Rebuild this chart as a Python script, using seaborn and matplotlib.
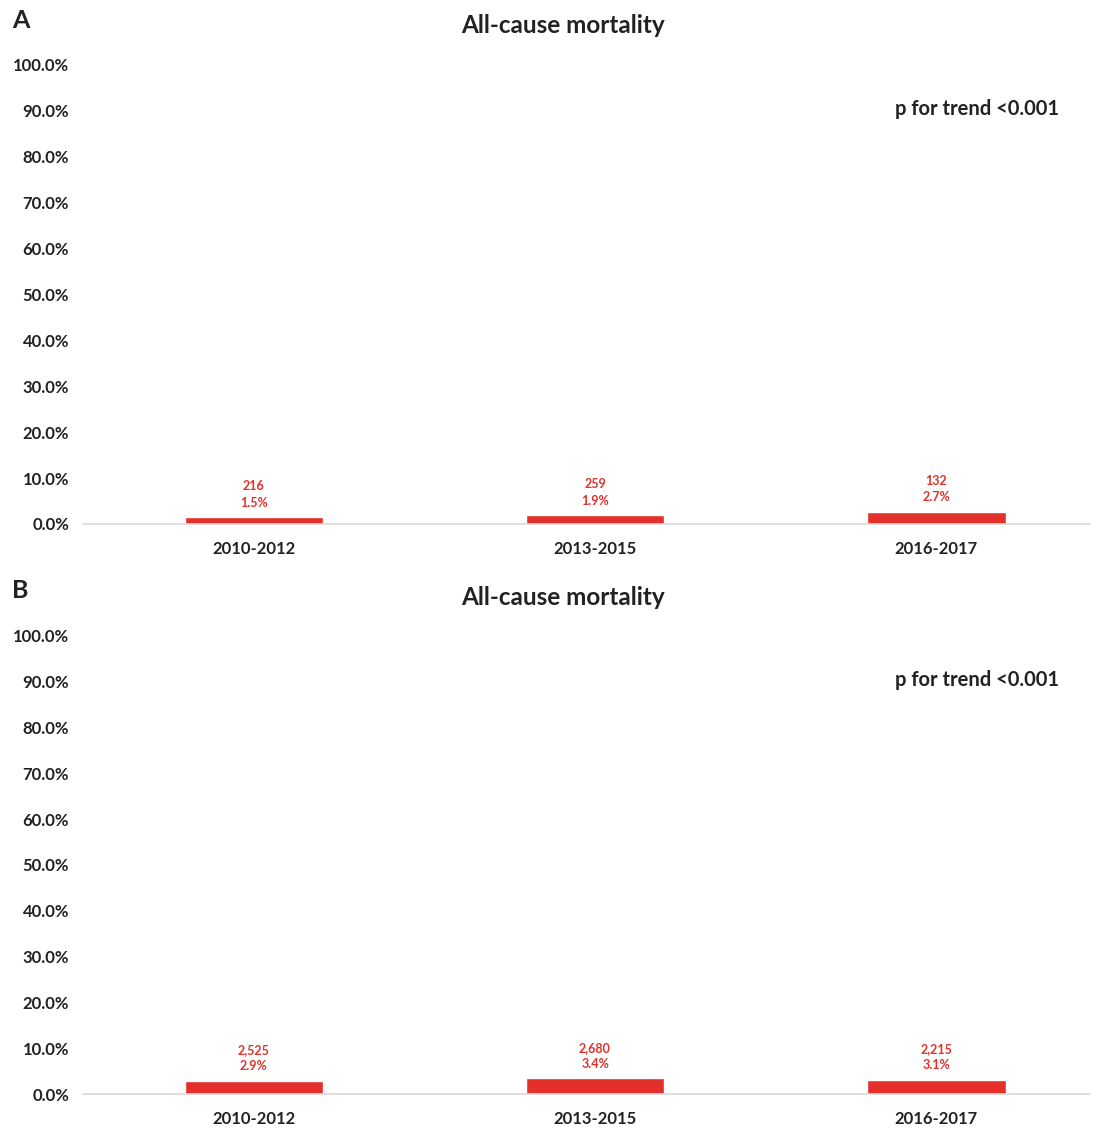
import pandas as pd
import matplotlib
matplotlib.use("Agg")
import matplotlib.pyplot as plt
import seaborn as sns

# data
periods = ["2010-2012", "2013-2015", "2016-2017"]
pct_a = [1.5, 1.9, 2.7]
n_a = [216, 259, 132]
pct_b = [2.9, 3.4, 3.1]
n_b = [2525, 2680, 2215]
yticks = [0, 10, 20, 30, 40, 50, 60, 70, 80, 90, 100]

sns.set_theme(style="white")
plt.rcParams["font.family"] = ["Lato", "DejaVu Sans"]

bar_color = "#E3302A"
fig = plt.figure(figsize=(10.99, 11.29), dpi=100)

panels = [
    ("A", pct_a, n_a, [0.0755, 0.5359, 0.9163, 0.4066], 0.982, 0.977),
    ("B", pct_b, n_b, [0.0755, 0.0310, 0.9163, 0.4057], 0.477, 0.471),
]

for letter, pct, counts, pos, letter_y, title_y in panels:
    ax = fig.add_axes(pos)
    df = pd.DataFrame({"period": periods, "pct": pct, "n": counts})
    sns.barplot(data=df, x="period", y="pct", color=bar_color, width=0.405,
                saturation=1, ax=ax)
    ax.set_xlim(-0.5, 2.45)
    ax.set_ylim(0, 100)
    ax.set_yticks(yticks)
    ax.set_yticklabels([f"{v:.1f}%" for v in yticks], fontsize=12,
                       fontweight="bold", color="#222222")
    ax.set_xticks(range(len(periods)))
    ax.set_xticklabels(periods, fontsize=12, fontweight="bold", color="#222222")
    ax.tick_params(axis="x", length=0, pad=12)
    ax.tick_params(axis="y", length=0, pad=10)
    ax.set_xlabel("")
    ax.set_ylabel("")
    for s in ["top", "right", "left"]:
        ax.spines[s].set_visible(False)
    ax.spines["bottom"].set_color("#d9d9d9")
    ax.spines["bottom"].set_linewidth(1.2)

    for i, (p, c) in enumerate(zip(pct, counts)):
        ax.annotate(f"{c:,}\n{p:.1f}%", xy=(i, p), xytext=(0, 6),
                    textcoords="offset points", ha="center", va="bottom",
                    fontsize=9, fontweight="bold", color=bar_color,
                    linespacing=1.45)

    ax.text(0.969, 0.904, "p for trend <0.001", transform=ax.transAxes,
            ha="right", va="center", fontsize=14.5, fontweight="bold",
            color="#222222")
    fig.text(0.512, title_y, "All-cause mortality", fontsize=17.5,
             fontweight="bold", color="#222222", ha="center", va="center")
    fig.text(0.011, letter_y, letter, fontsize=18, fontweight="bold",
             color="#222222", va="center")

fig.savefig("out.png", dpi=100)
